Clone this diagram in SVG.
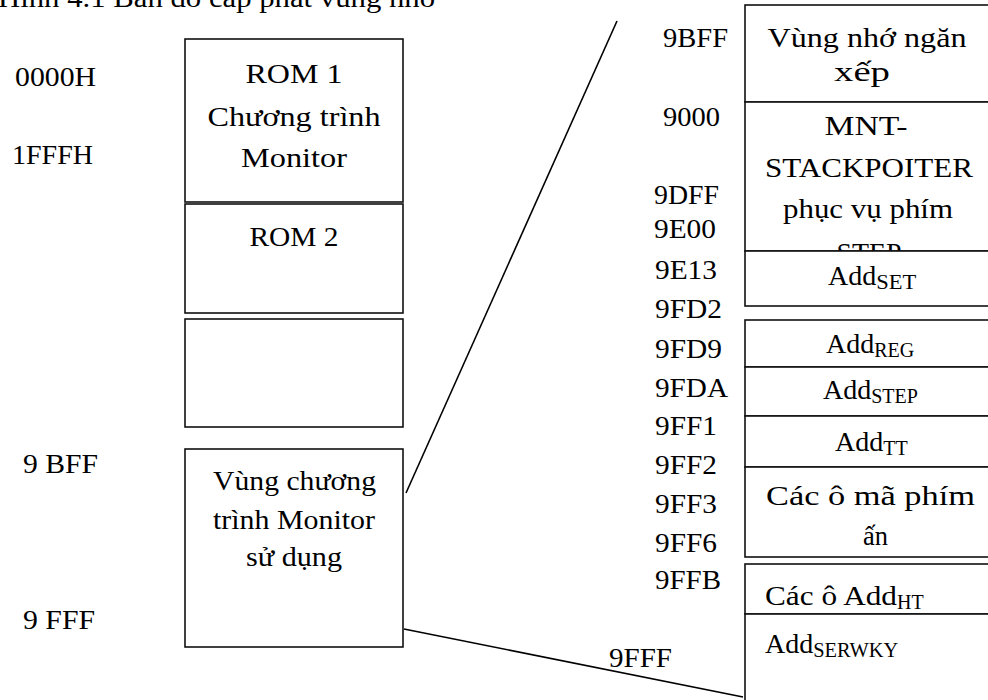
<svg xmlns="http://www.w3.org/2000/svg" width="988" height="700" viewBox="0 0 988 700" font-family="'Liberation Serif','Times New Roman',serif">
<style>
text{font-family:"Liberation Serif","Times New Roman",serif;font-size:28px;fill:#000}
.m{text-anchor:middle}
.box{fill:#fff;stroke:#111;stroke-width:1.6}
.sub{font-size:20px}
.ln{stroke:#000;stroke-width:1.6;fill:none}
</style>
<rect width="988" height="700" fill="#fff"/>
<text id="title" x="-2" y="7" textLength="438" lengthAdjust="spacingAndGlyphs">Hình 4.1 Bản đồ cấp phát vùng nhớ</text>

<g id="left-labels">
<text x="15" y="86" textLength="81" lengthAdjust="spacingAndGlyphs">0000H</text>
<text x="12" y="164" textLength="81" lengthAdjust="spacingAndGlyphs">1FFFH</text>
<text x="23" y="473" textLength="75" lengthAdjust="spacingAndGlyphs">9 BFF</text>
<text x="23" y="629" textLength="72" lengthAdjust="spacingAndGlyphs">9 FFF</text>
</g>

<g id="rom1">
<rect class="box" x="185" y="39" width="218" height="163"/>
<text class="m" x="294" y="83" textLength="97" lengthAdjust="spacingAndGlyphs">ROM 1</text>
<text class="m" x="294" y="126" textLength="173" lengthAdjust="spacingAndGlyphs">Chương trình</text>
<text class="m" x="294" y="167" textLength="106" lengthAdjust="spacingAndGlyphs">Monitor</text>
</g>
<g id="rom2">
<rect class="box" x="185" y="204" width="218" height="109"/>
<text class="m" x="294" y="246" textLength="89" lengthAdjust="spacingAndGlyphs">ROM 2</text>
</g>
<g id="empty">
<rect class="box" x="185" y="319" width="218" height="108"/>
</g>
<g id="monitor-area">
<rect class="box" x="185" y="449" width="218" height="198"/>
<text class="m" x="294.5" y="490" textLength="163" lengthAdjust="spacingAndGlyphs">Vùng chương</text>
<text class="m" x="294" y="529" textLength="162" lengthAdjust="spacingAndGlyphs">trình Monitor</text>
<text class="m" x="294" y="566" textLength="96" lengthAdjust="spacingAndGlyphs">sử dụng</text>
</g>

<g id="connectors">
<line class="ln" x1="406" y1="493" x2="617" y2="21"/>
<line class="ln" x1="404" y1="629" x2="743" y2="697"/>
</g>

<g id="right-labels">
<text x="663" y="47" textLength="65" lengthAdjust="spacingAndGlyphs">9BFF</text>
<text x="663" y="126" textLength="57" lengthAdjust="spacingAndGlyphs">9000</text>
<text x="654" y="204" textLength="65" lengthAdjust="spacingAndGlyphs">9DFF</text>
<text x="654" y="238" textLength="62" lengthAdjust="spacingAndGlyphs">9E00</text>
<text x="655" y="279" textLength="62" lengthAdjust="spacingAndGlyphs">9E13</text>
<text x="655" y="318" textLength="67" lengthAdjust="spacingAndGlyphs">9FD2</text>
<text x="655" y="358" textLength="67" lengthAdjust="spacingAndGlyphs">9FD9</text>
<text x="655" y="397" textLength="73" lengthAdjust="spacingAndGlyphs">9FDA</text>
<text x="655" y="435" textLength="62" lengthAdjust="spacingAndGlyphs">9FF1</text>
<text x="655" y="474" textLength="62" lengthAdjust="spacingAndGlyphs">9FF2</text>
<text x="655" y="513" textLength="62" lengthAdjust="spacingAndGlyphs">9FF3</text>
<text x="655" y="552" textLength="62" lengthAdjust="spacingAndGlyphs">9FF6</text>
<text x="655" y="589" textLength="66" lengthAdjust="spacingAndGlyphs">9FFB</text>
<text x="609" y="667" textLength="63" lengthAdjust="spacingAndGlyphs">9FFF</text>
</g>

<g id="stack-area">
<rect class="box" x="745" y="5" width="260" height="97"/>
<text class="m" x="867" y="47" textLength="199" lengthAdjust="spacingAndGlyphs">Vùng nhớ ngăn</text>
<text class="m" x="862" y="81" textLength="56" lengthAdjust="spacingAndGlyphs">xếp</text>
</g>
<g id="mnt-stackpointer">
<rect class="box" x="745" y="102" width="260" height="149"/>
<text class="m" x="866" y="135" textLength="83" lengthAdjust="spacingAndGlyphs">MNT-</text>
<text class="m" x="869" y="177" textLength="208" lengthAdjust="spacingAndGlyphs">STACKPOITER</text>
<text class="m" x="868" y="218" textLength="170" lengthAdjust="spacingAndGlyphs">phục vụ phím</text>
<text class="m" x="869" y="262" textLength="65" lengthAdjust="spacingAndGlyphs">STEP</text>
</g>
<g id="add-set">
<rect class="box" x="745" y="251" width="260" height="55"/>
<text x="828" y="285">Add<tspan class="sub" dy="4" textLength="40" lengthAdjust="spacingAndGlyphs">SET</tspan></text>
</g>
<g id="add-reg">
<rect class="box" x="745" y="320" width="260" height="47"/>
<text x="826" y="353">Add<tspan class="sub" dy="4">REG</tspan></text>
</g>
<g id="add-step">
<rect class="box" x="745" y="367" width="260" height="49"/>
<text x="823" y="399">Add<tspan class="sub" dy="4">STEP</tspan></text>
</g>
<g id="add-tt">
<rect class="box" x="745" y="416" width="260" height="51"/>
<text x="835" y="451">Add<tspan class="sub" dy="4">TT</tspan></text>
</g>
<g id="key-codes">
<rect class="box" x="745" y="467" width="260" height="90"/>
<text class="m" x="870.5" y="505" textLength="209" lengthAdjust="spacingAndGlyphs">Các ô mã phím</text>
<text class="m" x="875.5" y="545" textLength="25" lengthAdjust="spacingAndGlyphs">ấn</text>
</g>
<g id="add-ht">
<rect class="box" x="745" y="564" width="260" height="50"/>
<text x="765" y="605"><tspan textLength="132" lengthAdjust="spacingAndGlyphs">Các ô Add</tspan><tspan class="sub" dy="4">HT</tspan></text>
</g>
<g id="add-serwky">
<rect class="box" x="745" y="614" width="260" height="100"/>
<text x="765" y="653">Add<tspan class="sub" dy="4" textLength="85" lengthAdjust="spacingAndGlyphs">SERWKY</tspan></text>
</g>
</svg>
